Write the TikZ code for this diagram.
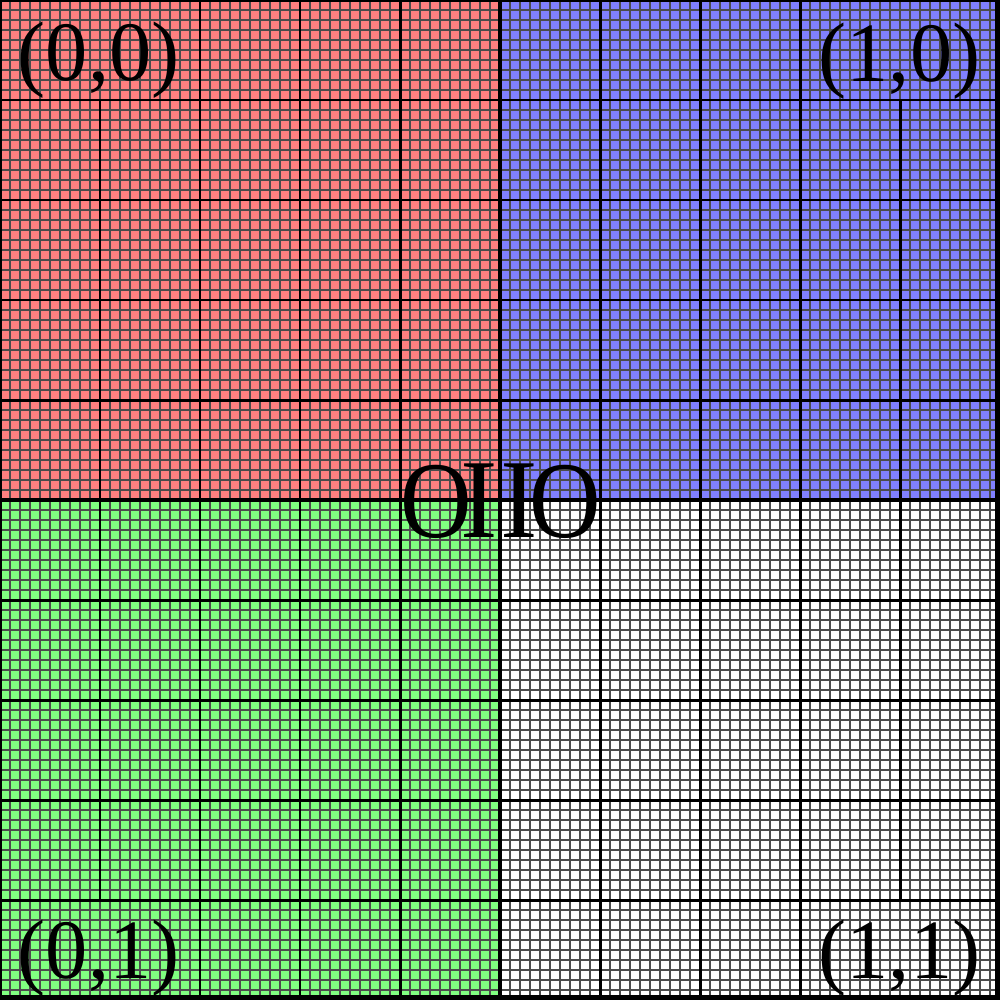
\documentclass[tikz,border=0pt]{standalone}
\usepackage{graphicx}
\usepackage{fontspec}
\setmainfont{Liberation Serif}
\definecolor{qred}{RGB}{255,128,128}
\definecolor{qblue}{RGB}{128,128,255}
\definecolor{qgreen}{RGB}{128,255,128}
\begin{document}
\begin{tikzpicture}[x=0.01cm,y=-0.01cm,
  fineline/.style={draw=black!70,line width=0.3pt},
  majorline/.style={draw=black,line width=0.85pt},
  axisline/.style={draw=black,line width=1.4pt},
  cornerlabel/.style={inner sep=0pt,font=\fontsize{24}{29}\selectfont},
  logo/.style={inner sep=0pt,font=\fontsize{32}{38}\selectfont}]
\useasboundingbox (0,0) rectangle (1000,1000);
\begin{scope}
\clip (0,0) rectangle (1000,1000);
\fill[qred] (0,0) rectangle (500,500);
\fill[qblue] (500,0) rectangle (1000,500);
\fill[qgreen] (0,500) rectangle (500,1000);
\fill[white] (500,500) rectangle (1000,1000);
\foreach \i in {0,10,...,1000} {
  \draw[fineline] (\i,0) -- (\i,1000);
  \draw[fineline] (0,\i) -- (1000,\i);
}
\foreach \i in {200,300,400,600,700,800} {
  \draw[majorline] (\i,0) -- (\i,1000);
}
\foreach \i in {100,200,300,400,600,700,800,900} {
  \draw[majorline] (0,\i) -- (1000,\i);
}
\foreach \i in {100,900} {
  \draw[majorline] (\i,100) -- (\i,900);
}
\draw[axisline] (500,0) -- (500,1000);
\draw[axisline] (0,500) -- (1000,500);
\draw[black,line width=1.1pt] (0,0) rectangle (1000,1000);
\fill[black] (995,0) rectangle (1000,1000);
\fill[black] (0,995) rectangle (1000,1000);
\end{scope}
\node[cornerlabel,anchor=base west] (lbl00) at (17,80) {(0,0)};
\node[cornerlabel,anchor=base east] (lbl10) at (981,81) {(1,0)};
\node[cornerlabel,anchor=base west] (lbl01) at (17,978) {(0,1)};
\node[cornerlabel,anchor=base east] (lbl11) at (981,978) {(1,1)};
\node[logo,anchor=base west] (logo) at (400,537) {\scalebox{0.88}[0.97]{O}\kern-0.115cm I\kern0.025cm I\kern-0.089cm\scalebox{0.88}[0.97]{O}};
\end{tikzpicture}
\end{document}
